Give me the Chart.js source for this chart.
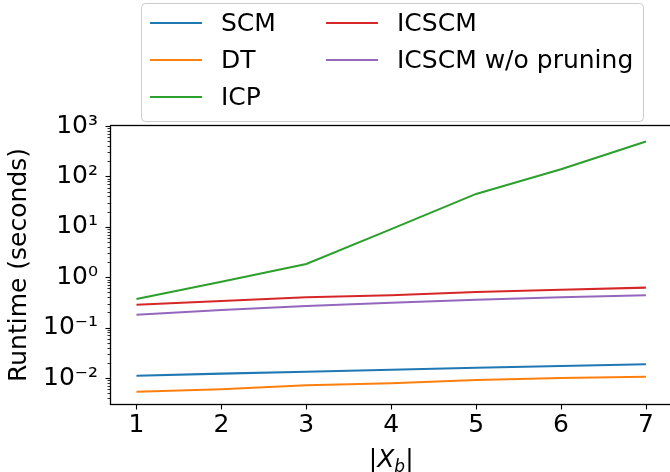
<!DOCTYPE html>
<html>
<head>
<meta charset="utf-8">
<script src="https://cdn.jsdelivr.net/npm/chart.js@4.4.1/dist/chart.umd.min.js"></script>
<style>
  html, body { margin: 0; padding: 0; background: #fff; overflow: hidden; }
  #runtimeChart { display: block; }
</style>
</head>
<body>
<canvas id="runtimeChart" width="690" height="472"></canvas>
<script>
// |X_b| values on the x axis
const xbSizes = [1, 2, 3, 4, 5, 6, 7];

// runtime in seconds per method
const scmTimes = [0.0111, 0.0122, 0.0133, 0.0146, 0.0160, 0.0173, 0.0187];
const dtTimes = [0.00535, 0.00597, 0.00716, 0.00785, 0.0091, 0.0100, 0.0106];
const icpTimes = [0.37, 0.81, 1.83, 9.0, 45, 138, 492];
const icscmTimes = [0.284, 0.337, 0.40, 0.44, 0.51, 0.565, 0.62];
const noPruneTimes = [0.18, 0.223, 0.268, 0.312, 0.358, 0.40, 0.437];

const methodNames = ["SCM", "DT", "ICP", "ICSCM", "ICSCM w/o pruning"];
const methodColors = ["#1f77b4", "#ff7f0e", "#2ca02c", "#d62728", "#9467bd"];

// decade ticks that get a label
const yMajorTicks = [0.01, 0.1, 1, 10, 100, 1000];
const yMajorLabels = ["10\u207B\u00B2", "10\u207B\u00B9", "10\u2070", "10\u00B9", "10\u00B2", "10\u00B3"];

const FONT = "DejaVu Sans";

function series(vals) {
    return xbSizes.map((x, i) => ({ x: x, y: vals[i] }));
}

const allSeries = [scmTimes, dtTimes, icpTimes, icscmTimes, noPruneTimes];
const datasets = allSeries.map((vals, i) => ({
    label: methodNames[i],
    data: series(vals),
    borderColor: methodColors[i],
    backgroundColor: methodColors[i],
    borderWidth: 2.1,
    pointRadius: 0,
    tension: 0,
    fill: false
}));

// minor log ticks 2..9 in every decade inside the axis range
function buildLogTicks(min, max) {
    const out = [];
    for (let e = -3; e <= 3; e++) {
        for (let m = 1; m <= 9; m++) {
            const v = m * Math.pow(10, e);
            if (v >= min && v <= max * 1.0001) out.push({ value: v });
        }
    }
    return out;
}

function isMajor(v) {
    const l = Math.log10(v);
    return Math.abs(l - Math.round(l)) < 1e-6;
}

// spines, tick marks, legend box and the x title
const framePlugin = {
    id: "frame",
    afterDraw(chart) {
        const ctx = chart.ctx;
        const a = chart.chartArea;
        const xs = chart.scales.x;
        const ys = chart.scales.y;
        const L = Math.round(a.left) - 0.5, T = Math.round(a.top) - 0.5;
        const R = Math.round(a.right) + 0.5, B = Math.round(a.bottom) + 0.5;
        ctx.save();

        ctx.strokeStyle = "#000";
        ctx.lineWidth = 1.3;
        ctx.strokeRect(L, T, R - L, B - T);

        ys.ticks.forEach(t => {
            const y = Math.round(ys.getPixelForValue(t.value)) + 0.5;
            const major = isMajor(t.value);
            ctx.lineWidth = major ? 1.1 : 0.8;
            ctx.beginPath();
            ctx.moveTo(L, y);
            ctx.lineTo(L - (major ? 5 : 3), y);
            ctx.stroke();
        });
        ctx.lineWidth = 1.1;
        xs.ticks.forEach(t => {
            const x = Math.round(xs.getPixelForValue(t.value)) + 0.5;
            ctx.beginPath();
            ctx.moveTo(x, B);
            ctx.lineTo(x, B + 5);
            ctx.stroke();
        });

        // legend
        const bx = 141, by = 3, bw = 502, bh = 118, r = 4;
        ctx.fillStyle = "rgba(255,255,255,0.8)";
        ctx.strokeStyle = "#cccccc";
        ctx.lineWidth = 1;
        ctx.beginPath();
        ctx.roundRect(bx + 0.5, by + 0.5, bw, bh, r);
        ctx.fill();
        ctx.stroke();

        const cols = [150, 326];
        const rows = [23, 60, 97];
        ctx.font = "25px '" + FONT + "'";
        ctx.textBaseline = "middle";
        ctx.textAlign = "left";
        chart.data.datasets.forEach((ds, i) => {
            const cx = cols[Math.floor(i / 3)];
            const cy = rows[i % 3];
            ctx.strokeStyle = ds.borderColor;
            ctx.lineWidth = 2.1;
            ctx.beginPath();
            ctx.moveTo(cx, cy);
            ctx.lineTo(cx + 52, cy);
            ctx.stroke();
            ctx.fillStyle = "#000";
            ctx.fillText(ds.label, cx + 71, cy + 1);
        });

        // x title |X_b|
        const ty = 458;
        const mid = (a.left + a.right) / 2;
        const parts = [
            { t: "|", f: "25px '" + FONT + "'", dy: 0 },
            { t: "X", f: "italic 25px '" + FONT + "'", dy: 0 },
            { t: "b", f: "italic 17px '" + FONT + "'", dy: 5 },
            { t: "|", f: "25px '" + FONT + "'", dy: 0 }
        ];
        let total = 0;
        parts.forEach(p => { ctx.font = p.f; p.w = ctx.measureText(p.t).width; total += p.w; });
        let px = mid - total / 2;
        ctx.fillStyle = "#000";
        ctx.textBaseline = "alphabetic";
        parts.forEach(p => {
            ctx.font = p.f;
            ctx.fillText(p.t, px, ty + 9 + p.dy);
            px += p.w;
        });
        ctx.restore();
    }
};

const Y_MIN = 0.00305, Y_MAX = 1000;

new Chart(document.getElementById("runtimeChart"), {
    type: "line",
    data: { datasets: datasets },
    options: {
        responsive: false,
        animation: false,
        layout: { padding: { left: 0, right: 18.6, top: 126, bottom: 0 } },
        plugins: {
            legend: { display: false },
            tooltip: { enabled: false }
        },
        scales: {
            x: {
                type: "linear",
                min: 0.7,
                max: 7.3,
                afterBuildTicks: s => { s.ticks = xbSizes.map(v => ({ value: v })); },
                afterFit: s => { s.height = 68; },
                grid: { display: false, drawTicks: false },
                border: { display: false },
                ticks: {
                    padding: 6,
                    color: "#000",
                    font: { family: FONT, size: 25 },
                    maxRotation: 0,
                    autoSkip: false
                }
            },
            y: {
                type: "logarithmic",
                min: Y_MIN,
                max: Y_MAX,
                afterBuildTicks: s => { s.ticks = buildLogTicks(Y_MIN, Y_MAX); },
                afterFit: s => { s.width = 111; },
                grid: { display: false, drawTicks: false },
                border: { display: false },
                title: {
                    display: true,
                    text: "Runtime (seconds)",
                    color: "#000",
                    font: { family: FONT, size: 25 },
                    padding: { top: 4, bottom: 0 }
                },
                ticks: {
                    padding: 13,
                    color: "#000",
                    autoSkip: false,
                    font: { family: FONT, size: 25 },
                    callback: function (value) {
                        const k = yMajorTicks.findIndex(m => Math.abs(m - value) / m < 1e-6);
                        return k >= 0 ? yMajorLabels[k] : "";
                    }
                }
            }
        }
    },
    plugins: [framePlugin]
});
</script>
</body>
</html>
